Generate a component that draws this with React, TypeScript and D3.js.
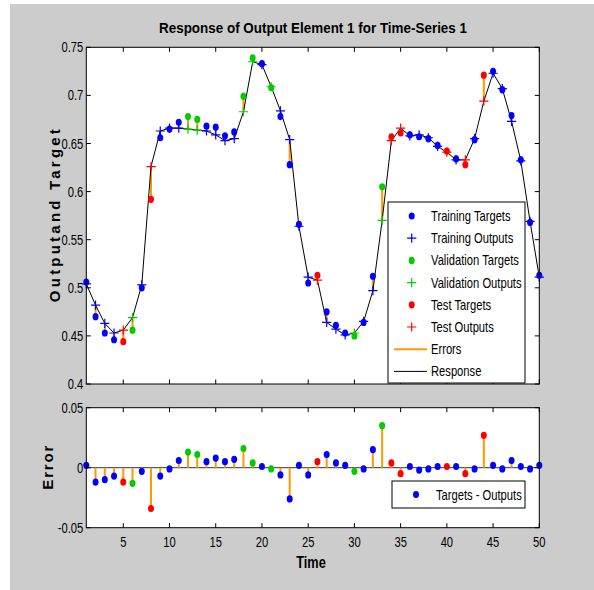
import React from "react";
import * as d3 from "d3";

// Time steps 1..50
const timeSteps: number[] = d3.range(1, 51);

// Network outputs (response) per time step
const outputs: number[] = [
  0.504, 0.482, 0.463, 0.453, 0.456, 0.469, 0.503, 0.626, 0.663, 0.666,
  0.666, 0.665, 0.664, 0.663, 0.659, 0.653, 0.655, 0.683, 0.735, 0.732,
  0.709, 0.684, 0.654, 0.564, 0.511, 0.508, 0.464, 0.457, 0.451, 0.453,
  0.465, 0.497, 0.570, 0.653, 0.666, 0.658, 0.659, 0.656, 0.647, 0.641,
  0.633, 0.633, 0.655, 0.694, 0.723, 0.707, 0.673, 0.632, 0.569, 0.511,
];

// Targets per time step
const targets: number[] = [
  0.506, 0.470, 0.453, 0.446, 0.444, 0.456, 0.500, 0.592, 0.656, 0.665,
  0.672, 0.678, 0.675, 0.668, 0.667, 0.658, 0.662, 0.699, 0.739, 0.733,
  0.708, 0.678, 0.628, 0.566, 0.505, 0.513, 0.475, 0.461, 0.453, 0.450,
  0.464, 0.512, 0.605, 0.657, 0.661, 0.659, 0.657, 0.655, 0.648, 0.642,
  0.634, 0.628, 0.654, 0.721, 0.725, 0.706, 0.679, 0.633, 0.568, 0.513,
];

// Data division: 0 = training, 1 = validation, 2 = test
const division: number[] = [
  0, 0, 0, 0, 2, 1, 0, 2, 0, 0,
  0, 1, 1, 0, 0, 0, 0, 1, 1, 0,
  1, 0, 0, 0, 0, 2, 0, 0, 0, 1,
  0, 0, 1, 2, 2, 0, 0, 0, 0, 2,
  0, 2, 0, 2, 0, 0, 0, 0, 0, 0,
];

const responseTicks: number[] = [0.4, 0.45, 0.5, 0.55, 0.6, 0.65, 0.7, 0.75];
const responseTickLabels: string[] = ["0.4", "0.45", "0.5", "0.55", "0.6", "0.65", "0.7", "0.75"];
const errorTicks: number[] = [-0.05, 0, 0.05];
const errorTickLabels: string[] = ["-0.05", "0", "0.05"];
const timeTicks: number[] = [5, 10, 15, 20, 25, 30, 35, 40, 45, 50];

const groupNames: string[] = ["Training", "Validation", "Test"];
const groupColors: string[] = ["#0000ff", "#00cc00", "#ff0000"];
const ERR_COLOR = "#ff9900";
const FONT = "'Liberation Sans', Arial, sans-serif";

const errors = targets.map((t, i) => t - outputs[i]);

const X0 = 86.3;
const X1 = 539.3;
const x = d3.scaleLinear().domain([1, 50]).range([X0, X1]);
const y = d3.scaleLinear().domain([0.4, 0.75]).range([384, 47.3]);
const e = d3.scaleLinear().domain([-0.05, 0.05]).range([527.7, 407.7]);

const TICK = 4.5;
const SQUEEZE = 0.8;

// Condensed text: glyphs squeezed horizontally around the anchor point
function NText({
  x: tx,
  y: ty,
  anchor = "start",
  size = 13.5,
  bold = false,
  children,
}: {
  x: number;
  y: number;
  anchor?: "start" | "middle" | "end";
  size?: number;
  bold?: boolean;
  children: React.ReactNode;
}) {
  return (
    <text
      transform={`translate(${tx},${ty}) scale(${SQUEEZE},1)`}
      textAnchor={anchor}
      fontSize={size}
      fontWeight={bold ? "bold" : "normal"}
      fontFamily={FONT}
      fill="#000"
    >
      {children}
    </text>
  );
}

function Dot({ cx, cy, color }: { cx: number; cy: number; color: string }) {
  return <ellipse cx={cx} cy={cy} rx={3} ry={3.6} fill={color} />;
}

function Plus({ cx, cy, color }: { cx: number; cy: number; color: string }) {
  const h = 4.6;
  return (
    <path
      d={`M${cx - h},${cy}H${cx + h}M${cx},${cy - h}V${cy + h}`}
      stroke={color}
      strokeWidth={1.2}
      fill="none"
    />
  );
}

function Frame({
  top,
  bottom,
  yScale,
  yTicks,
  yLabels,
  xLabels,
}: {
  top: number;
  bottom: number;
  yScale: d3.ScaleLinear<number, number>;
  yTicks: number[];
  yLabels: string[];
  xLabels: boolean;
}) {
  return (
    <g>
      <rect x={X0} y={top} width={X1 - X0} height={bottom - top} fill="none" stroke="#000" strokeWidth={1} />
      {timeTicks.map((t) => (
        <g key={"xt" + t}>
          <line x1={x(t)} x2={x(t)} y1={bottom} y2={bottom - TICK} stroke="#000" />
          <line x1={x(t)} x2={x(t)} y1={top} y2={top + TICK} stroke="#000" />
          {xLabels && (
            <NText x={x(t)} y={bottom + 19} anchor="middle" size={14}>
              {t}
            </NText>
          )}
        </g>
      ))}
      {yTicks.map((v, i) => (
        <g key={"yt" + v}>
          <line x1={X0} x2={X0 + TICK} y1={yScale(v)} y2={yScale(v)} stroke="#000" />
          <line x1={X1} x2={X1 - TICK} y1={yScale(v)} y2={yScale(v)} stroke="#000" />
          <NText x={X0 - 3} y={yScale(v) + 5} anchor="end" size={14}>
            {yLabels[i]}
          </NText>
        </g>
      ))}
    </g>
  );
}

export default function App() {
  const line = d3
    .line<number>()
    .x((_, i) => x(timeSteps[i]))
    .y((d) => y(d));

  const legendItems = [0, 1, 2].flatMap((g) => [
    { kind: "dot", color: groupColors[g], label: `${groupNames[g]} Targets` },
    { kind: "plus", color: groupColors[g], label: `${groupNames[g]} Outputs` },
  ]);
  legendItems.push({ kind: "err", color: ERR_COLOR, label: "Errors" });
  legendItems.push({ kind: "line", color: "#000", label: "Response" });

  return (
    <svg
      width={594}
      height={590}
      style={{ position: "absolute", left: 0, top: 0 }}
      xmlns="http://www.w3.org/2000/svg"
    >
      <rect x={0} y={0} width={594} height={590} fill="#fff" />
      <rect x={10} y={4} width={584} height={586} fill="#cccccc" />

      {/* Response panel */}
      <rect x={X0} y={y(0.75)} width={X1 - X0} height={y(0.4) - y(0.75)} fill="#fff" />
      <g>
        {/* errors as stems from output to target */}
        {timeSteps.map((t, i) => (
          <line
            key={"es" + t}
            x1={x(t)}
            x2={x(t)}
            y1={y(outputs[i])}
            y2={y(targets[i])}
            stroke={ERR_COLOR}
            strokeWidth={2}
          />
        ))}
        <path d={line(outputs) || ""} fill="none" stroke="#000" strokeWidth={1} />
        {timeSteps.map((t, i) => (
          <Dot key={"td" + t} cx={x(t)} cy={y(targets[i])} color={groupColors[division[i]]} />
        ))}
        {timeSteps.map((t, i) => (
          <Plus key={"op" + t} cx={x(t)} cy={y(outputs[i])} color={groupColors[division[i]]} />
        ))}
      </g>
      <Frame top={y(0.75)} bottom={y(0.4)} yScale={y} yTicks={responseTicks} yLabels={responseTickLabels} xLabels={false} />

      {/* Legend for response panel */}
      <g>
        <rect x={388} y={202} width={137} height={181} fill="#fff" stroke="#000" strokeWidth={1} />
        {legendItems.map((it, k) => {
          const ly = 216 + k * 22.2;
          return (
            <g key={"lg" + k}>
              {it.kind === "dot" && <Dot cx={411.7} cy={ly} color={it.color} />}
              {it.kind === "plus" && <Plus cx={411.7} cy={ly} color={it.color} />}
              {it.kind === "err" && <line x1={394} x2={427} y1={ly} y2={ly} stroke={ERR_COLOR} strokeWidth={2} />}
              {it.kind === "line" && <line x1={394} x2={427} y1={ly} y2={ly} stroke="#000" strokeWidth={1} />}
              <NText x={431} y={ly + 5} size={14}>
                {it.label}
              </NText>
            </g>
          );
        })}
      </g>

      {/* Error panel */}
      <rect x={X0} y={e(0.05)} width={X1 - X0} height={e(-0.05) - e(0.05)} fill="#fff" />
      <line x1={X0} x2={X1} y1={e(0)} y2={e(0)} stroke="#333" strokeWidth={1} />
      {timeSteps.map((t, i) => (
        <line key={"eb" + t} x1={x(t)} x2={x(t)} y1={e(0)} y2={e(errors[i])} stroke={ERR_COLOR} strokeWidth={2} />
      ))}
      {timeSteps.map((t, i) => (
        <Dot key={"ed" + t} cx={x(t)} cy={e(errors[i])} color={groupColors[division[i]]} />
      ))}
      <Frame top={e(0.05)} bottom={e(-0.05)} yScale={e} yTicks={errorTicks} yLabels={errorTickLabels} xLabels={true} />

      <g>
        <rect x={392} y={481} width={133} height={27} fill="#fff" stroke="#000" strokeWidth={1} />
        <Dot cx={416} cy={494.5} color="#0000ff" />
        <NText x={436} y={499.5} size={14}>
          Targets - Outputs
        </NText>
      </g>

      {/* Titles and axis labels */}
      <text
        x={313}
        y={33}
        textAnchor="middle"
        fontSize={15}
        fontWeight="bold"
        fontFamily={FONT}
        fill="#000"
        textLength={308}
        lengthAdjust="spacingAndGlyphs"
      >
        Response of Output Element 1 for Time-Series 1
      </text>
      <text
        transform={`translate(60,${(y(0.4) + y(0.75)) / 2}) rotate(-90)`}
        textAnchor="middle"
        fontSize={15}
        fontWeight="bold"
        fontFamily={FONT}
        fill="#000"
        textLength={173}
        lengthAdjust="spacing"
      >
        Outputand Target
      </text>
      <text
        transform={`translate(53,${(e(0.05) + e(-0.05)) / 2}) rotate(-90)`}
        textAnchor="middle"
        fontSize={15}
        fontWeight="bold"
        fontFamily={FONT}
        fill="#000"
        textLength={44}
        lengthAdjust="spacing"
      >
        Error
      </text>
      <NText x={311} y={568} anchor="middle" size={16} bold>
        Time
      </NText>
    </svg>
  );
}
